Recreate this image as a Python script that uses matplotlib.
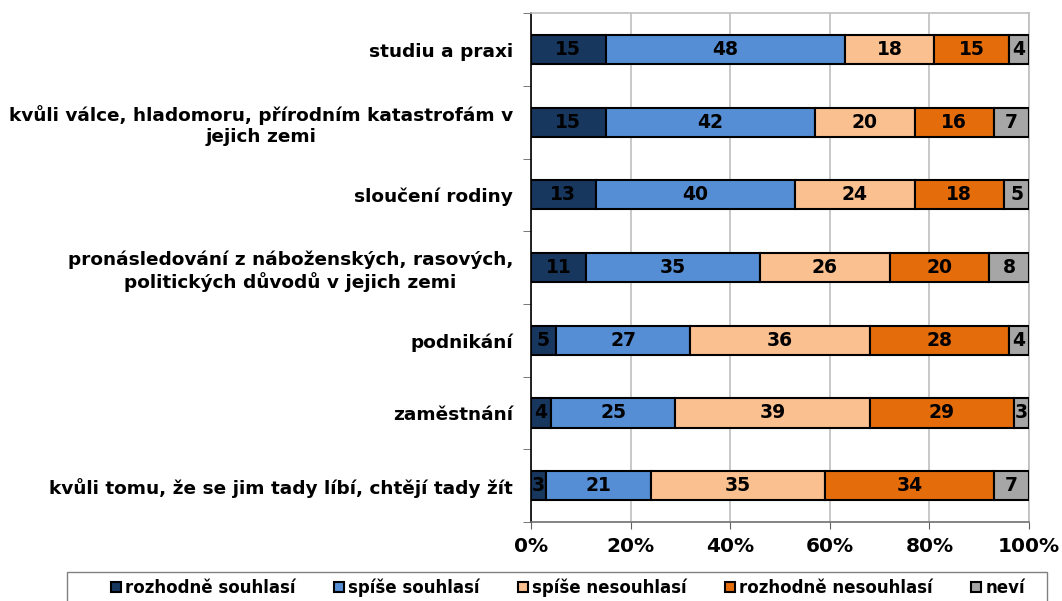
import numpy as np
import matplotlib.pyplot as plt
from matplotlib.patches import Rectangle

categories = [
    'studiu a praxi',
    'kvůli válce, hladomoru, přírodním katastrofám v\njejich zemi',
    'sloučení rodiny',
    'pronásledování z náboženských, rasových,\npolitických důvodů v jejich zemi',
    'podnikání',
    'zaměstnání',
    'kvůli tomu, že se jim tady líbí, chtějí tady žít',
]
series_names = ['rozhodně souhlasí', 'spíše souhlasí', 'spíše nesouhlasí',
                'rozhodně nesouhlasí', 'neví']
rozhodne_souhlasi = [15, 15, 13, 11, 5, 4, 3]
spise_souhlasi = [48, 42, 40, 35, 27, 25, 21]
spise_nesouhlasi = [18, 20, 24, 26, 36, 39, 35]
rozhodne_nesouhlasi = [15, 16, 18, 20, 28, 29, 34]
nevi = [4, 7, 5, 8, 4, 3, 7]

colors = ['#17375E', '#558ED5', '#FAC090', '#E46C0A', '#A6A6A6']
series = [rozhodne_souhlasi, spise_souhlasi, spise_nesouhlasi, rozhodne_nesouhlasi, nevi]

plt.rcParams['font.family'] = ['DejaVu Sans']
plt.rcParams['font.weight'] = 'bold'

fig = plt.figure(figsize=(10.62, 6.01), dpi=100)
ax = fig.add_axes([0.5, 0.1314, 0.469, 0.8466])

y = np.arange(len(categories))
left = np.zeros(len(categories))
for name, vals, col in zip(series_names, series, colors):
    vals = np.array(vals, dtype=float)
    ax.barh(y, vals, left=left, height=0.4, color=col, edgecolor='black',
            linewidth=1.5, label=name, zorder=3)
    for yi, l, v in zip(y, left, vals):
        ax.text(l + v / 2, yi, f'{int(v)}', ha='center', va='center',
                fontsize=13.5, fontweight='bold', color='black', zorder=4)
    left += vals

ax.set_xlim(0, 100)
ax.set_ylim(len(categories) - 0.5, -0.5)
ax.set_xticks([0, 20, 40, 60, 80, 100])
ax.set_xticklabels(['0%', '20%', '40%', '60%', '80%', '100%'], fontsize=14.5, fontweight='bold')
ax.xaxis.grid(True, color='#BFBFBF', linewidth=1.2, zorder=0)

ax.set_yticks(y)
ax.set_yticklabels(categories, fontsize=13.3, fontweight='bold', multialignment='center')
ax.tick_params(axis='y', length=0, pad=13)
ax.set_yticks(np.arange(-0.5, len(categories)), minor=True)
ax.tick_params(axis='y', which='minor', length=6, direction='out', color='#606060')
ax.tick_params(axis='x', length=5, color='#606060', pad=6)

for s in ['top', 'right']:
    ax.spines[s].set_color('#BFBFBF')
    ax.spines[s].set_linewidth(1.2)
ax.spines['left'].set_color('black')
ax.spines['left'].set_linewidth(1.2)
ax.spines['bottom'].set_color('#707070')
ax.spines['bottom'].set_linewidth(1.2)

# legend box drawn separately so its width matches the original
fig.patches.append(Rectangle((67 / 1062, -0.02), 980 / 1062, 0.068,
                             transform=fig.transFigure, fill=False,
                             edgecolor='#808080', linewidth=1.0))
leg = fig.legend(loc='center', bbox_to_anchor=(0.535, 0.022), ncol=5, fontsize=12,
                 frameon=False, handlelength=0.6, handleheight=0.6, handletextpad=0.25,
                 borderaxespad=0, borderpad=0.3, columnspacing=2.3)
for t in leg.get_texts():
    t.set_fontweight('bold')

fig.savefig('out.png', dpi=100)
